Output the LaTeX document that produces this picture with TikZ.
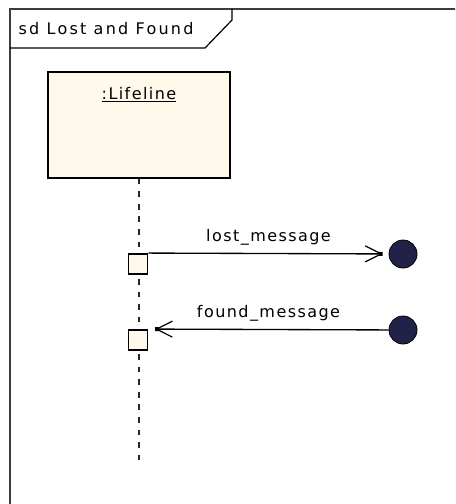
\documentclass[tikz,border=0pt]{standalone}
\usepackage{fontspec}
\usepackage{xcolor}
\usepackage{tikz}
\usetikzlibrary{positioning, arrows.meta}
\newfontfamily\umlfont{DejaVu Sans}[LetterSpace=9]
\definecolor{UMLCream}{RGB}{255,249,236}
\definecolor{UMLNavy}{RGB}{34,34,72}
\definecolor{UMLFrame}{RGB}{60,60,60}

\begin{document}
\begin{tikzpicture}[x=0.75pt, y=-0.75pt,
            txt/.style={font=\umlfont\fontsize{12}{14}\selectfont, inner sep=1pt},
            head/.style={rectangle, draw=black, line width=1.3pt, fill=UMLCream,
                         minimum width=136.5pt, minimum height=79.5pt, inner sep=0pt},
            actbox/.style={rectangle, draw=black, line width=1.4pt, fill=UMLCream,
                           minimum width=14.25pt, minimum height=15pt, inner sep=0pt},
            enddot/.style={circle, draw=black, line width=0.6pt, fill=UMLNavy,
                           minimum size=21pt, inner sep=0pt},
            msg/.style={draw=black, line width=1pt,
                        -{Straight Barb[length=12pt, width=12pt, line width=0.9pt, sep=-3pt]Square[length=3pt, width=3pt]}},
            life/.style={draw=black!85, line width=1.3pt, dash pattern=on 4.2pt off 5.2pt}
          ]
          \clip (0,0) rectangle (455,504);
          \fill[white] (0,0) rectangle (455,504);

          % frame and title tab
          \draw[draw=UMLFrame, line width=1.4pt] (10,520) -- (10,9) -- (470,9);
          \draw[line width=0.9pt] (10,48) -- (205,48) -- (232,20) -- (232,9);
          \node[txt, anchor=west] (title) at (17,29)
                {\addfontfeature{LetterSpace=14}sd Lost and Found};

          % lifeline
          \node[head, label={[txt, below=11pt]north:\underline{:Lifeline}}] (obj) at (139,125) {};
          \coordinate (lifeend) at (139,467);
          \draw[life] (obj.south) -- (lifeend);

          % activations
          \node[actbox] (act1) at (138,264) {};
          \node[actbox] (act2) at (138,340) {};

          % lost and found ends
          \node[enddot] (lost) at (403,254) {};
          \node[enddot] (found) at (403,330) {};

          % messages
          \draw[msg, shorten >=4.5pt] (act1.north east) --
                node[txt, above=5pt] (lostlbl) {lost\_message} (lost);
          \draw[msg, shorten >=5pt] (found) --
                node[txt, above=5pt] (foundlbl) {found\_message} (act2.north east);
        \end{tikzpicture}
\end{document}
